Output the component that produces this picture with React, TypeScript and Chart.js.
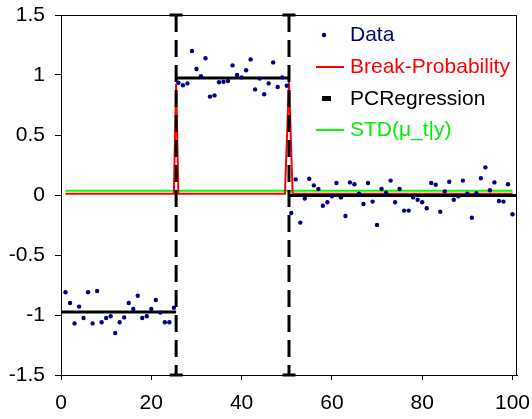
import React, { useEffect, useRef } from 'react';
import { Chart, registerables } from 'chart.js';

Chart.register(...registerables);

// Observed data (x = 1..100)
const dataValues = [
  -0.81, -0.9, -1.07, -0.93, -1.025, -0.81, -1.07, -0.8, -1.06, -1.025,
  -1.01, -1.15, -1.06, -1.02, -0.9, -0.95, -0.84, -1.025, -1.01, -0.95,
  -0.875, -0.98, -1.06, -1.06, -0.94,
  0.936, 0.914, 0.93, 1.2, 1.05, 0.99, 1.14, 0.82, 0.83, 0.94,
  0.944, 0.95, 1.08, 1.0, 0.98, 1.04, 1.13, 0.88, 0.97, 0.84,
  0.93, 1.105, 0.9, 0.98, 0.91,
  -0.15, 0.13, -0.23, -0.03, 0.136, 0.08, 0.05, -0.09, -0.06, -0.01,
  0.1, -0.02, -0.175, 0.105, 0.09, 0.01, -0.075, 0.1, -0.055, -0.25,
  0.05, 0.02, 0.12, -0.06, 0.05,
  -0.13, -0.13, -0.02, -0.04, -0.06, -0.11, 0.1, 0.086, -0.14, 0.03,
  0.11, -0.04, -0.01, 0.12, 0.01, -0.19, 0.014, 0.14, 0.23, 0.04,
  0.105, -0.05, -0.055, 0.09, -0.16,
];

// Break probability
const breakX = [1, 25, 25.5, 26, 49.6, 50.5, 51.3, 100];
const breakY = [0.01, 0.01, 0.93, 0.01, 0.01, 0.95, 0.01, 0.01];

// Piecewise-constant regression
const segStart = [0, 25.5, 50.5];
const segEnd = [25.5, 50.5, 101];
const segLevel = [-0.975, 0.975, -0.005];
const breakPositions = [25.5, 50.5];

// STD(mu_t|y)
const stdX = [1, 100];
const stdY = [0.035, 0.035];

const xTicks = [0, 20, 40, 60, 80, 100];
const yTicks = [-1.5, -1, -0.5, 0, 0.5, 1, 1.5];

const FONT = '"Liberation Sans", Arial, Helvetica, sans-serif';
const NAVY = '#000080';

const frameAndLegend = {
  id: 'frameAndLegend',
  afterDatasetsDraw(chart: any) {
    const ctx = chart.ctx;
    const a = chart.chartArea;
    ctx.save();
    ctx.strokeStyle = '#000';
    ctx.lineWidth = 1;
    ctx.beginPath();
    ctx.moveTo(a.left, a.top + 0.5);
    ctx.lineTo(a.right, a.top + 0.5);
    ctx.moveTo(a.right - 0.5, a.top);
    ctx.lineTo(a.right - 0.5, a.bottom);
    ctx.stroke();

    ctx.font = '21px ' + FONT;
    ctx.textBaseline = 'middle';
    ctx.textAlign = 'left';
    const tx = 350;
    // Data
    ctx.fillStyle = NAVY;
    ctx.beginPath();
    ctx.arc(324, 35, 2.2, 0, Math.PI * 2);
    ctx.fill();
    ctx.fillText('Data', tx, 35);
    // Break-Probability
    ctx.strokeStyle = '#ff0000';
    ctx.lineWidth = 2;
    ctx.beginPath();
    ctx.moveTo(316, 67);
    ctx.lineTo(344, 67);
    ctx.stroke();
    ctx.fillStyle = '#ff0000';
    ctx.fillText('Break-Probability', tx, 67);
    // PCRegression
    ctx.fillStyle = '#000';
    ctx.fillRect(322, 96, 9, 5);
    ctx.fillText('PCRegression', tx, 99);
    // STD
    ctx.strokeStyle = '#00ff00';
    ctx.lineWidth = 2;
    ctx.beginPath();
    ctx.moveTo(316, 130);
    ctx.lineTo(344, 130);
    ctx.stroke();
    ctx.fillStyle = '#00ee00';
    ctx.fillText('STD(\u03bc_t|y)', tx, 130);
    ctx.restore();
  },
};

export default function App() {
  const ref = useRef<HTMLCanvasElement | null>(null);

  useEffect(() => {
    if (!ref.current) return;
    Chart.defaults.font.family = FONT;

    const points = dataValues.map((v, i) => ({ x: i + 1, y: v }));
    const breakData = breakX.map((x, i) => ({ x, y: breakY[i] }));
    const pcData: any[] = [];
    segStart.forEach((s, i) => {
      pcData.push({ x: s, y: segLevel[i] });
      pcData.push({ x: segEnd[i], y: segLevel[i] });
      if (i < segStart.length - 1) pcData.push({ x: segEnd[i], y: null });
    });
    const vData: any[] = [];
    breakPositions.forEach((b, i) => {
      vData.push({ x: b, y: yTicks[yTicks.length - 1] });
      vData.push({ x: b, y: yTicks[0] });
      if (i < breakPositions.length - 1) vData.push({ x: b, y: null });
    });
    const stdData = stdX.map((x, i) => ({ x, y: stdY[i] }));

    const chart = new Chart(ref.current, {
      type: 'scatter',
      data: {
        datasets: [
          {
            label: 'Data',
            data: points,
            showLine: false,
            pointRadius: 2.2,
            pointBorderWidth: 0,
            backgroundColor: NAVY,
            borderColor: NAVY,
          },
          {
            label: 'PCRegressionBreaks',
            data: vData,
            showLine: true,
            spanGaps: false,
            borderColor: '#000',
            borderWidth: 3,
            borderDash: [17, 8],
            pointStyle: 'line',
            pointRadius: 6.5,
            pointBorderWidth: 3,
            pointBorderColor: '#000',
            clip: false as any,
          },
          {
            label: 'PCRegression',
            data: pcData,
            showLine: true,
            spanGaps: false,
            borderColor: '#000',
            borderWidth: 3,
            pointRadius: 0,
          },
          {
            label: 'Break-Probability',
            data: breakData,
            showLine: true,
            borderColor: '#ff0000',
            borderWidth: 2,
            pointRadius: 0,
            tension: 0,
          },
          {
            label: 'STD',
            data: stdData,
            showLine: true,
            borderColor: '#00ff00',
            borderWidth: 2,
            pointRadius: 0,
          },
        ],
      },
      options: {
        responsive: false,
        animation: false,
        events: [],
        layout: { padding: { top: 15, right: 15, left: 0, bottom: 0 } },
        plugins: { legend: { display: false }, tooltip: { enabled: false } },
        scales: {
          x: {
            type: 'linear',
            min: 0,
            max: 101,
            afterFit: (s: any) => {
              s.height = 44;
              s.paddingLeft = 0;
              s.paddingRight = 0;
            },
            afterBuildTicks: (s: any) => {
              s.ticks = xTicks.map((v) => ({ value: v }));
            },
            grid: { display: true, drawOnChartArea: false, drawTicks: true, tickLength: 5, color: '#000' },
            border: { display: true, color: '#000', width: 1 },
            ticks: {
              color: '#000',
              font: { size: 21, family: FONT },
              padding: 11,
              maxRotation: 0,
              autoSkip: false,
              callback: (v: any) => String(v),
            },
          },
          y: {
            type: 'linear',
            min: -1.5,
            max: 1.5,
            afterFit: (s: any) => {
              s.width = 61;
              s.paddingTop = 0;
              s.paddingBottom = 0;
            },
            afterBuildTicks: (s: any) => {
              s.ticks = yTicks.map((v) => ({ value: v }));
            },
            grid: { display: true, drawOnChartArea: false, drawTicks: true, tickLength: 6, color: '#000' },
            border: { display: true, color: '#000', width: 1 },
            ticks: {
              color: '#000',
              font: { size: 21, family: FONT },
              padding: 10,
              autoSkip: false,
              callback: (v: any) => String(v),
            },
          },
        },
      },
      plugins: [frameAndLegend],
    });
    return () => chart.destroy();
  }, []);

  return (
    <div style={{ position: 'fixed', left: 0, top: 0, width: 532, height: 419, background: '#fff' }}>
      <canvas ref={ref} width={532} height={419} style={{ display: 'block' }} />
    </div>
  );
}
